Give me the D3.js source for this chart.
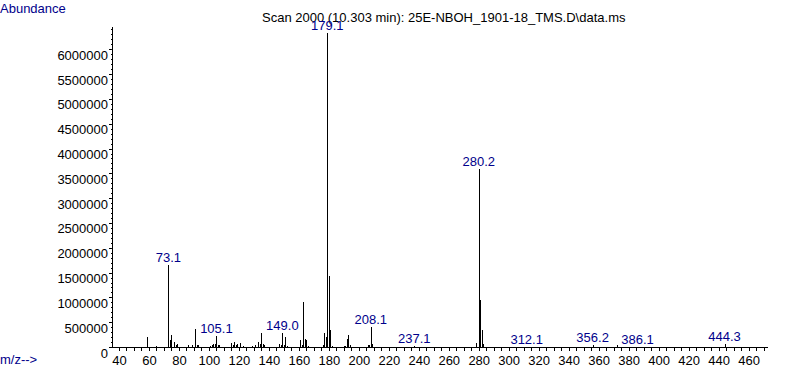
<!DOCTYPE html>
<html>
<head>
<meta charset="utf-8">
<script src="https://cdn.jsdelivr.net/npm/d3@7/dist/d3.min.js"></script>
<style>
  body { margin: 0; background: #fff; }
  svg { display: block; }
  text { font-family: "Liberation Sans", Arial, sans-serif; font-size: 13px; }
</style>
</head>
<body>
<svg id="chart" width="787" height="385"></svg>
<script>
// peaks (m/z, abundance)
var mzValues = [59, 65, 73, 74, 75, 77, 78, 79, 86, 89, 91, 92, 93,
    101, 102, 103, 104, 105, 106, 107, 115, 116, 117, 118, 119, 121, 123,
    129, 131, 133, 134, 135, 136, 137, 147, 148, 149, 150, 151, 152,
    161, 162, 163, 164, 165, 166, 176, 177, 178, 179, 180, 181, 182,
    190, 191, 192, 193, 194, 206, 207, 208, 209, 222, 237, 251,
    278, 280, 281, 282, 283, 312, 356, 372, 386, 444];
var abundances = [200000, 30000, 1650000, 140000, 240000, 95000, 40000, 60000, 40000, 40000, 365000, 40000, 40000,
    30000, 40000, 70000, 60000, 230000, 50000, 40000, 85000, 40000, 110000, 40000, 60000, 85000, 20000,
    30000, 40000, 100000, 60000, 280000, 60000, 50000, 60000, 40000, 280000, 50000, 200000, 20000,
    140000, 40000, 900000, 170000, 140000, 20000, 40000, 280000, 200000, 6320000, 1430000, 340000, 30000,
    20000, 30000, 160000, 240000, 40000, 40000, 50000, 400000, 60000, 10000, 15000, 10000,
    90000, 3580000, 950000, 340000, 60000, 10000, 50000, 40000, 10000, 60000];

// annotated peaks
var labelMz = [73, 105, 149, 179, 208, 237, 280, 312, 356, 386, 444];
var labelText = ["73.1", "105.1", "149.0", "179.1", "208.1", "237.1", "280.2", "312.1", "356.2", "386.1", "444.3"];

var xTickLabels = d3.range(40, 461, 20);
var yTickLabels = d3.range(0, 6000001, 500000);

var titleText = "Scan 2000 (10.303 min): 25E-NBOH_1901-18_TMS.D\\data.ms";

var svg = d3.select("#chart");
var navy = "#00008b";

var x = d3.scaleLinear().domain([36, 473]).range([113, 768]);
var y = d3.scaleLinear().domain([0, 6450000]).range([347, 27]);

function abundanceAt(mz) {
    var i = mzValues.indexOf(mz);
    return i < 0 ? 0 : abundances[i];
}

// axes
var xAxis = svg.append("g")
    .attr("transform", "translate(0," + y(0) + ")")
    .call(d3.axisBottom(x).tickValues(d3.range(40, 471, 5)).tickSize(4).tickFormat(""));
xAxis.select(".domain").attr("d", "M" + x(36) + ",0.5H" + x(473));

svg.append("g")
    .attr("transform", "translate(0," + y(0) + ")")
    .call(d3.axisBottom(x).tickValues(xTickLabels).tickSize(4).tickPadding(5))
    .call(function (g) { g.select(".domain").remove(); });

var yAxis = svg.append("g")
    .attr("transform", "translate(" + x(36) + ",0)")
    .call(d3.axisLeft(y).tickValues(d3.range(0, 6400001, 100000)).tickSize(2).tickFormat(""));
yAxis.select(".domain").attr("d", "M-0.5," + y(6450000) + "V" + y(0));

svg.append("g")
    .attr("transform", "translate(" + x(36) + ",0)")
    .call(d3.axisLeft(y).tickValues(yTickLabels).tickSize(4).tickPadding(1).tickFormat(d3.format("d")))
    .call(function (g) {
        g.select(".domain").remove();
        g.selectAll("text").attr("dy", "10");
    });

svg.selectAll(".tick text").attr("fill", "#000").style("font-size", "13px");
svg.selectAll(".tick line, .domain").attr("stroke", "#000").attr("shape-rendering", "crispEdges");

// peaks
svg.append("g").selectAll("line")
    .data(mzValues)
    .join("line")
    .attr("x1", function (d) { return Math.round(x(d)) + 0.5; })
    .attr("x2", function (d) { return Math.round(x(d)) + 0.5; })
    .attr("y1", y(0))
    .attr("y2", function (d, i) { return y(abundances[i]); })
    .attr("stroke", "#000")
    .attr("stroke-width", 1)
    .attr("shape-rendering", "crispEdges");

// title then peak labels over it
svg.append("text")
    .attr("x", 262)
    .attr("y", 22)
    .attr("fill", "#000")
    .text(titleText);

svg.append("g").selectAll("text")
    .data(labelMz)
    .join("text")
    .attr("x", function (d) { return x(d); })
    .attr("y", function (d) { return y(abundanceAt(d)) - 3; })
    .attr("text-anchor", "middle")
    .attr("fill", navy)
    .text(function (d, i) { return labelText[i]; });

svg.append("text").attr("x", 0).attr("y", 13).attr("fill", navy).text("Abundance");
svg.append("text").attr("x", 0).attr("y", 364).attr("fill", navy).text("m/z-->");
</script>
</body>
</html>
